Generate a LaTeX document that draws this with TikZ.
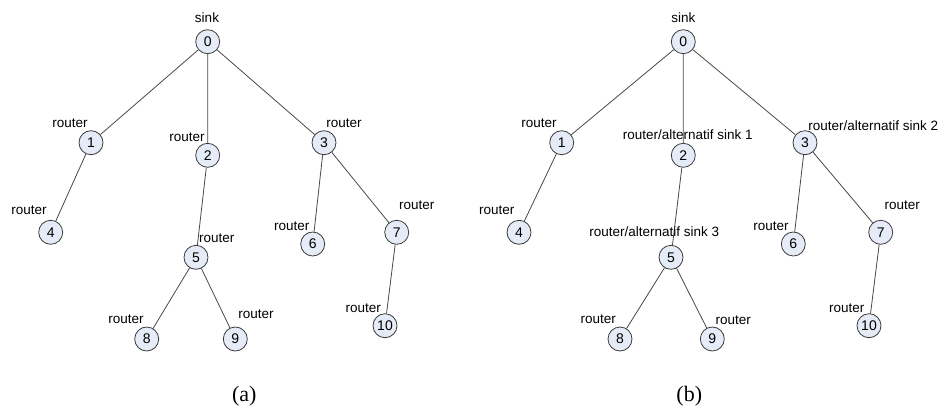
\documentclass[tikz,border=0pt]{standalone}
\usepackage{fontspec}
\setmainfont{Liberation Serif}
\newfontfamily\lblfont{Liberation Sans}
\definecolor{nodefill}{HTML}{E6ECF7}
\definecolor{nodeline}{HTML}{3C3C3C}
\definecolor{edgecol}{HTML}{484848}
\begin{document}
\begin{tikzpicture}[x=1pt,y=-1pt,
  tnode/.style={circle,draw=nodeline,fill=nodefill,line width=0.8pt,minimum size=24pt,inner sep=0pt,font=\lblfont\fontsize{14}{16}\selectfont},
  lbl/.style={inner sep=0pt,font=\lblfont\fontsize{13.5}{16}\selectfont},
  edge/.style={draw=edgecol,line width=0.8pt},
  captext/.style={inner sep=0pt,font=\fontsize{22}{26}\selectfont}]
\useasboundingbox (0,0) rectangle (945,407);
% ---------- tree (a)
\node[tnode] (a0) at (207.7,41.7) {0};
\node[tnode] (a1) at (91,142.7) {1};
\node[tnode] (a2) at (207.7,155.3) {2};
\node[tnode] (a3) at (324,142.7) {3};
\node[tnode] (a4) at (50.7,232.3) {4};
\node[tnode] (a5) at (196,257.3) {5};
\node[tnode] (a6) at (312.7,244) {6};
\node[tnode] (a7) at (396.7,232.3) {7};
\node[tnode] (a8) at (146.7,339) {8};
\node[tnode] (a9) at (235.3,339) {9};
\node[tnode] (a10) at (385,325.7) {10};
\node[lbl] (la0) at (207,18) {sink};
\node[lbl] (la1) at (70,123) {router};
\node[lbl] (la2) at (187,137) {router};
\node[lbl] (la3) at (344,123) {router};
\node[lbl] (la4) at (29,210) {router};
\node[lbl] (la5) at (216.7,238.3) {router};
\node[lbl] (la6) at (291.7,225.7) {router};
\node[lbl] (la7) at (416.7,205) {router};
\node[lbl] (la8) at (126,319) {router};
\node[lbl] (la9) at (256,314.3) {router};
\node[lbl] (la10) at (363.3,307.7) {router};
\path[edge] (a0) -- (a1) (a0) -- (a2) (a0) -- (a3)
  (a1) -- (a4) (a2) -- (a5) (a3) -- (a6) (a3) -- (a7)
  (a5) -- (a8) (a5) -- (a9) (a7) -- (a10);
\node[captext] (capa) at (244.3,396) {(a)};
% ---------- tree (b)
\node[tnode] (b0) at (683.3,41.7) {0};
\node[tnode] (b1) at (561.7,142.7) {1};
\node[tnode] (b2) at (683.3,155.3) {2};
\node[tnode] (b3) at (805,142.7) {3};
\node[tnode] (b4) at (519,232.3) {4};
\node[tnode] (b5) at (671,257.3) {5};
\node[tnode] (b6) at (793.3,244) {6};
\node[tnode] (b7) at (880.7,232.3) {7};
\node[tnode] (b8) at (620,339) {8};
\node[tnode] (b9) at (712.3,339) {9};
\node[tnode] (b10) at (869,325.7) {10};
\path[edge] (b0) -- (b1) (b0) -- (b2) (b0) -- (b3)
  (b1) -- (b4) (b2) -- (b5) (b3) -- (b6) (b3) -- (b7)
  (b5) -- (b8) (b5) -- (b9) (b7) -- (b10);
\node[lbl] (lb0) at (683.3,18) {sink};
\node[lbl] (lb1) at (539,123) {router};
\node[lbl] (lb2) at (687.7,134.3) {router/alternatif sink 1};
\node[lbl] (lb3) at (873.3,126) {router/alternatif sink 2};
\node[lbl] (lb4) at (496.7,210) {router};
\node[lbl] (lb5) at (654.3,231.7) {router/alternatif sink 3};
\node[lbl] (lb6) at (771,225.7) {router};
\node[lbl] (lb7) at (902.3,205) {router};
\node[lbl] (lb8) at (598.3,319) {router};
\node[lbl] (lb9) at (733.3,320) {router};
\node[lbl] (lb10) at (846.7,307.7) {router};
\node[captext] (capb) at (689.3,396) {(b)};
\end{tikzpicture}
\end{document}
